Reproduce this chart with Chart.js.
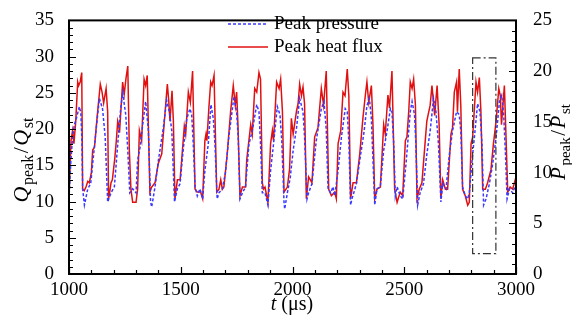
<!DOCTYPE html>
<html>
<head>
<meta charset="utf-8">
<script src="https://cdn.jsdelivr.net/npm/chart.js@4/dist/chart.umd.min.js"></script>
<style>
  body { margin: 0; background: #fff; }
  canvas { display: block; }
</style>
</head>
<body>
<canvas id="grafico" width="572" height="327"></canvas>
<script>
// Peak heat flux (left axis, Q_peak/Q_st)
const heatT = [1000,1009,1016,1022,1030,1039,1043,1050,1057,1061,1068,1076,1084,1091,1100,1106,1114,1121,1128,1140,1148,1155,1166,1173,1177,1183,1188,1194,1205,1212,1218,1222,1226,1233,1240,1247,1255,1263,1270,1277,1285,1300,1307,1315,1325,1336,1343,1350,1362,1370,1385,1400,1415,1430,1440,1446,1452,1461,1467,1474,1485,1497,1504,1516,1522,1534,1543,1553,1564,1574,1589,1598,1608,1613,1617,1626,1634,1640,1649,1661,1671,1679,1686,1693,1708,1723,1735,1744,1750,1756,1765,1776,1790,1795,1813,1820,1831,1840,1850,1857,1865,1870,1877,1890,1902,1910,1915,1929,1940,1947,1955,1962,1977,1987,1995,2003,2018,2025,2032,2040,2047,2054,2062,2072,2087,2099,2114,2129,2139,2151,2162,2174,2189,2196,2204,2216,2226,2235,2245,2252,2260,2271,2286,2301,2315,2326,2333,2341,2353,2360,2368,2378,2393,2408,2415,2427,2434,2445,2457,2468,2482,2493,2505,2512,2520,2527,2535,2542,2550,2557,2567,2579,2594,2601,2616,2624,2636,2647,2656,2664,2672,2684,2694,2709,2716,2724,2734,2738,2746,2753,2761,2773,2784,2791,2799,2806,2813,2821,2828,2836,2843,2851,2863,2873,2888,2899,2911,2923,2930,2935,2948,2954,2963,2974,2985,3000];
const heatQ = [10.4,18.4,19.8,18.0,21.0,26.5,26.0,26.5,27.8,11.7,11.5,12.0,12.8,12.6,14.0,17.1,17.5,20.0,22.4,26.2,25.1,23.6,25.6,22.4,10.4,11.5,12.6,13.0,16.0,18.5,21.1,20.6,19.5,23.0,26.5,24.8,27.0,28.7,17.0,11.7,9.9,9.9,11.7,19.8,18.4,26.9,26.0,27.4,11.3,12.0,12.6,15.3,16.6,22.4,26.2,24.0,21.1,25.3,21.1,10.4,13.0,13.0,15.7,20.4,19.3,25.1,23.7,28.0,11.7,11.3,11.3,10.4,18.4,19.3,18.4,23.0,26.5,26.0,27.4,11.3,11.7,13.0,11.7,12.0,16.6,22.4,26.0,23.3,25.1,20.6,10.8,12.0,12.0,15.7,20.6,19.3,25.6,25.1,27.8,26.9,12.6,11.7,12.0,9.9,18.0,19.8,18.4,26.5,25.6,26.9,22.4,11.3,12.0,14.5,21.5,19.3,22.5,23.5,26.2,24.6,25.8,23.5,10.4,13.4,12.6,18.9,20.2,25.6,23.3,28.0,11.7,10.8,11.3,10.4,18.0,19.8,25.1,24.6,28.3,24.6,10.4,12.6,12.6,16.6,21.5,24.7,26.5,23.7,26.0,20.6,10.4,11.7,12.0,20.6,19.3,24.7,22.9,28.0,11.7,9.9,11.3,10.8,18.4,18.9,22.4,26.5,25.6,26.9,23.3,10.4,11.7,12.6,18.4,21.1,23.3,26.0,21.9,26.0,20.6,10.4,13.0,11.7,11.7,19.3,20.2,25.1,26.5,22.4,28.3,23.3,11.7,10.8,9.5,9.9,18.0,18.9,22.4,26.5,25.1,27.1,22.4,11.7,11.7,12.6,14.4,18.0,21.1,25.6,24.6,20.6,26.0,20.2,11.3,12.0,11.7,13.4];

// Peak pressure (right axis, P_peak/P_st)
const presT = [1000,1008,1016,1024,1035,1046,1053,1058,1061,1069,1084,1097,1112,1125,1136,1150,1162,1173,1188,1203,1218,1230,1240,1254,1263,1272,1285,1300,1307,1318,1333,1343,1355,1365,1370,1385,1400,1422,1437,1449,1460,1472,1485,1497,1512,1527,1541,1549,1556,1564,1574,1586,1598,1608,1623,1635,1646,1653,1663,1671,1686,1700,1715,1738,1750,1757,1765,1776,1790,1805,1820,1840,1850,1857,1865,1877,1890,1902,1915,1932,1944,1952,1962,1965,1977,1990,2003,2018,2032,2047,2054,2065,2072,2087,2106,2129,2141,2151,2159,2171,2181,2189,2204,2219,2236,2245,2252,2260,2266,2286,2301,2320,2333,2344,2353,2359,2368,2378,2393,2408,2423,2438,2445,2453,2460,2468,2482,2493,2508,2527,2535,2546,2552,2560,2571,2586,2601,2616,2631,2642,2653,2664,2672,2687,2702,2716,2734,2746,2753,2761,2773,2784,2791,2806,2818,2828,2839,2848,2855,2866,2881,2896,2911,2926,2936,2945,2953,2960,2971,2985,3000];
const presP = [7.4,11.0,13.5,14.7,15.5,16.5,15.9,13.0,8.4,6.8,8.4,8.9,12.2,15.0,17.3,16.3,13.5,7.1,8.0,8.6,12.8,16.0,17.9,15.7,12.2,8.0,8.4,8.0,11.2,12.5,15.3,17.0,14.2,7.1,6.6,8.6,11.2,14.4,17.1,16.0,14.1,7.1,8.4,8.9,12.5,15.3,16.3,15.7,12.8,8.6,7.7,8.4,7.4,10.2,12.8,16.7,15.3,12.8,7.4,8.0,8.4,10.0,13.5,17.5,15.9,13.5,7.4,8.0,8.6,12.8,14.1,16.7,16.0,12.8,8.0,8.0,6.8,10.2,12.8,16.5,15.7,13.1,7.1,6.4,8.0,9.5,12.2,14.4,17.3,16.0,13.5,7.4,8.0,8.9,13.1,16.3,17.0,14.2,8.4,8.0,8.6,7.7,10.2,13.5,16.3,16.0,13.1,6.8,7.4,8.9,11.2,14.0,16.6,17.3,15.3,11.8,6.8,8.4,8.6,12.2,14.1,16.3,16.0,12.8,7.7,8.6,7.7,7.4,10.9,16.0,17.0,15.7,12.8,6.8,8.0,8.9,11.8,14.1,17.3,16.0,12.8,7.1,8.9,8.4,11.8,14.1,16.0,15.7,14.1,8.6,7.7,7.4,8.0,11.8,14.4,16.8,16.0,12.8,6.8,7.4,8.9,10.9,13.5,17.0,17.6,15.7,11.8,7.4,8.4,8.0,8.9];

// Dash-dot box (t range, P range)
const boxT = [2806, 2910];
const boxP = [2, 21.3];

const fonte = '"Liberation Serif", "Times New Roman", serif';
const fonteTick = { family: fonte, size: 19 };

function paraPontos(xs, ys) {
    return xs.map((x, i) => ({ x: x, y: ys[i] }));
}

// Desenha texto com subscritos, opcionalmente girado
function textoComposto(ctx, partes, cx, cy, rot, tam, tamSub, gap) {
    ctx.save();
    ctx.translate(cx, cy);
    ctx.rotate(rot);
    let larg = 0;
    partes.forEach(p => {
        ctx.font = (p.it ? 'italic ' : '') + (p.sub ? tamSub : tam) + 'px ' + fonte;
        p.w = ctx.measureText(p.t).width + gap;
        larg += p.w;
    });
    larg -= gap;
    let x = -larg / 2;
    ctx.fillStyle = '#000';
    ctx.textBaseline = 'alphabetic';
    ctx.textAlign = 'left';
    partes.forEach(p => {
        ctx.font = (p.it ? 'italic ' : '') + (p.sub ? tamSub : tam) + 'px ' + fonte;
        ctx.fillText(p.t, x, p.sub ? 11 : 6);
        x += p.w;
    });
    ctx.restore();
}

const extras = {
    id: 'extras',
    afterDatasetsDraw(chart) {
        const ctx = chart.ctx;
        const a = chart.chartArea;
        const sx = chart.scales.x, sy = chart.scales.y, sy2 = chart.scales.y2;
        ctx.save();
        ctx.strokeStyle = '#000';

        // marcas internas
        ctx.lineWidth = 1.2;
        ctx.beginPath();
        for (let v = 1000; v <= 3000; v += 100) {
            const px = Math.round(sx.getPixelForValue(v)) + 0.5;
            const len = v % 500 === 0 ? 7 : 4;
            ctx.moveTo(px, a.bottom); ctx.lineTo(px, a.bottom - len);
        }
        for (let v = 0; v <= 35; v += 1) {
            const py = Math.round(sy.getPixelForValue(v)) + 0.5;
            const len = v % 5 === 0 ? 7 : 4;
            ctx.moveTo(a.left, py); ctx.lineTo(a.left + len, py);
        }
        for (let v = 0; v <= 25; v += 1) {
            const py = Math.round(sy2.getPixelForValue(v)) + 0.5;
            const len = v % 5 === 0 ? 7 : 4;
            ctx.moveTo(a.right, py); ctx.lineTo(a.right - len, py);
        }
        ctx.stroke();

        // moldura
        ctx.lineWidth = 2;
        ctx.strokeRect(a.left, a.top, a.right - a.left, a.bottom - a.top);

        // caixa tracejada
        ctx.lineWidth = 1.2;
        ctx.strokeStyle = '#333';
        ctx.setLineDash([8, 3, 2, 3]);
        const bx0 = sx.getPixelForValue(boxT[0]), bx1 = sx.getPixelForValue(boxT[1]);
        const by0 = sy2.getPixelForValue(boxP[1]), by1 = sy2.getPixelForValue(boxP[0]);
        ctx.strokeRect(bx0, by0, bx1 - bx0, by1 - by0);
        ctx.setLineDash([]);

        // legenda
        ctx.lineWidth = 1.5;
        ctx.strokeStyle = '#3a3aff';
        ctx.setLineDash([3, 2]);
        ctx.beginPath(); ctx.moveTo(228, 24); ctx.lineTo(268, 24); ctx.stroke();
        ctx.setLineDash([]);
        ctx.strokeStyle = '#e01010';
        ctx.beginPath(); ctx.moveTo(228, 47); ctx.lineTo(268, 47); ctx.stroke();
        ctx.fillStyle = '#000';
        ctx.font = '19px ' + fonte;
        ctx.textBaseline = 'middle';
        ctx.fillText('Peak pressure', 274, 24);
        ctx.fillText('Peak heat flux', 274, 47);
        ctx.restore();

        // títulos dos eixos
        textoComposto(ctx, [{t:'Q',it:true},{t:'peak',sub:true},{t:'/'},{t:'Q',it:true},{t:'st',sub:true}], 22, 160, -Math.PI / 2, 22, 16, 1.5);
        textoComposto(ctx, [{t:'P',it:true},{t:'peak',sub:true},{t:'/'},{t:'P',it:true},{t:'st',sub:true}], 559, 142, -Math.PI / 2, 21, 15, 1.5);
        textoComposto(ctx, [{t:'t',it:true},{t:' (μs)'}], 292, 304, 0, 20, 14, 0);
    }
};

new Chart(document.getElementById('grafico').getContext('2d'), {
    type: 'line',
    data: {
        datasets: [
            {
                label: 'Peak pressure',
                data: paraPontos(presT, presP),
                yAxisID: 'y2',
                borderColor: '#3a3aff',
                borderWidth: 1.5,
                borderDash: [3, 2],
                pointRadius: 0,
                tension: 0,
                fill: false
            },
            {
                label: 'Peak heat flux',
                data: paraPontos(heatT, heatQ),
                yAxisID: 'y',
                borderColor: '#e01010',
                borderWidth: 1.5,
                pointRadius: 0,
                tension: 0,
                fill: false
            }
        ]
    },
    options: {
        responsive: false,
        animation: false,
        layout: { padding: { top: 13 } },
        plugins: { legend: { display: false }, tooltip: { enabled: false } },
        scales: {
            x: {
                type: 'linear', min: 1000, max: 3000,
                ticks: { stepSize: 500, font: fonteTick, color: '#000', padding: -3, maxRotation: 0,
                         callback: v => String(v) },
                grid: { display: false },
                border: { display: false },
                afterFit(s) { s.height = 53; }
            },
            y: {
                position: 'left', min: 0, max: 35,
                ticks: { stepSize: 5, font: fonteTick, color: '#000', padding: 7 },
                grid: { display: false },
                border: { display: false },
                afterFit(s) { s.width = 69; }
            },
            y2: {
                position: 'right', min: 0, max: 25,
                ticks: { stepSize: 5, font: fonteTick, color: '#000', padding: 9 },
                grid: { display: false },
                border: { display: false },
                afterFit(s) { s.width = 56; }
            }
        }
    },
    plugins: [extras]
});
</script>
</body>
</html>
